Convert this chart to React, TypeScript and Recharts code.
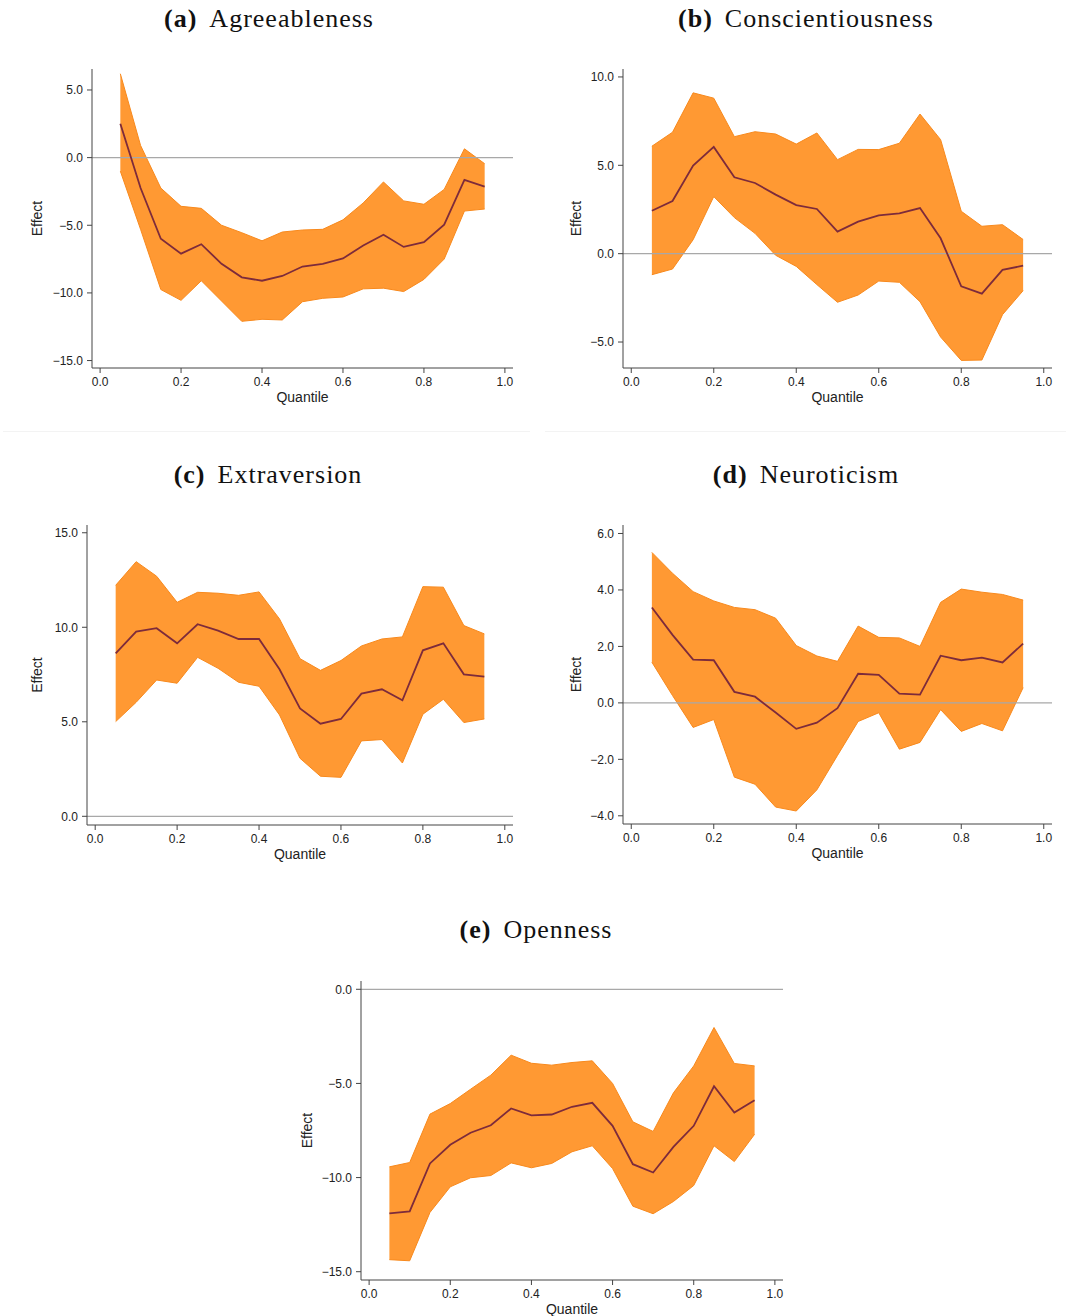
import React from 'react'
import {
  ComposedChart,
  Area,
  Line,
  XAxis,
  YAxis,
  ReferenceLine,
} from 'recharts'

// quantiles shared by all five panels
const QUANTILES = [
  0.05, 0.1, 0.15, 0.2, 0.25, 0.3, 0.35, 0.4, 0.45, 0.5,
  0.55, 0.6, 0.65, 0.7, 0.75, 0.8, 0.85, 0.9, 0.95,
]
const X_TICKS = [0, 0.2, 0.4, 0.6, 0.8, 1.0]

// (a) Agreeableness
const AGREE_MEAN = [2.5, -2.25, -6.0, -7.1, -6.4, -7.85, -8.85, -9.1, -8.75, -8.05, -7.85, -7.45, -6.5, -5.7, -6.6, -6.25, -4.95, -1.65, -2.15]
const AGREE_LO = [-1.0, -5.3, -9.75, -10.55, -9.1, -10.6, -12.1, -11.95, -12.0, -10.65, -10.4, -10.3, -9.7, -9.65, -9.9, -9.0, -7.5, -3.95, -3.8]
const AGREE_HI = [6.2, 0.9, -2.25, -3.6, -3.75, -5.0, -5.55, -6.15, -5.5, -5.35, -5.3, -4.6, -3.35, -1.8, -3.2, -3.45, -2.35, 0.65, -0.45]

// (b) Conscientiousness
const CONSC_MEAN = [2.43, 2.98, 4.98, 6.04, 4.32, 4.0, 3.34, 2.75, 2.53, 1.25, 1.81, 2.17, 2.28, 2.58, 0.87, -1.85, -2.26, -0.92, -0.68]
const CONSC_LO = [-1.19, -0.87, 0.79, 3.23, 2.04, 1.15, -0.09, -0.72, -1.75, -2.75, -2.34, -1.55, -1.62, -2.72, -4.72, -6.04, -6.02, -3.45, -2.09]
const CONSC_HI = [6.08, 6.87, 9.1, 8.8, 6.62, 6.9, 6.77, 6.2, 6.83, 5.32, 5.9, 5.89, 6.25, 7.9, 6.45, 2.4, 1.55, 1.64, 0.8]

// (c) Extraversion
const EXTRA_MEAN = [8.62, 9.77, 9.95, 9.15, 10.16, 9.82, 9.38, 9.38, 7.78, 5.71, 4.9, 5.15, 6.49, 6.72, 6.14, 8.78, 9.15, 7.51, 7.39]
const EXTRA_LO = [5.01, 6.03, 7.21, 7.04, 8.41, 7.83, 7.09, 6.88, 5.36, 3.07, 2.12, 2.06, 3.99, 4.06, 2.82, 5.4, 6.19, 4.96, 5.15]
const EXTRA_HI = [12.22, 13.47, 12.7, 11.32, 11.85, 11.8, 11.69, 11.87, 10.44, 8.34, 7.72, 8.24, 9.01, 9.38, 9.49, 12.15, 12.12, 10.09, 9.65]

// (d) Neuroticism
const NEURO_MEAN = [3.38, 2.41, 1.53, 1.51, 0.39, 0.22, -0.34, -0.92, -0.7, -0.19, 1.03, 0.99, 0.33, 0.29, 1.67, 1.51, 1.6, 1.43, 2.1]
const NEURO_LO = [1.44, 0.26, -0.87, -0.59, -2.63, -2.88, -3.69, -3.83, -3.08, -1.86, -0.66, -0.35, -1.64, -1.4, -0.24, -1.01, -0.73, -0.99, 0.54]
const NEURO_HI = [5.33, 4.59, 3.94, 3.61, 3.38, 3.3, 3.0, 2.03, 1.66, 1.47, 2.72, 2.32, 2.3, 2.0, 3.56, 4.03, 3.92, 3.84, 3.64]

// (e) Openness
const OPEN_MEAN = [-11.9, -11.8, -9.25, -8.26, -7.62, -7.22, -6.33, -6.7, -6.65, -6.24, -6.03, -7.25, -9.29, -9.73, -8.37, -7.25, -5.15, -6.55, -5.89]
const OPEN_LO = [-14.36, -14.42, -11.85, -10.49, -10.01, -9.89, -9.22, -9.48, -9.25, -8.63, -8.31, -9.52, -11.52, -11.92, -11.27, -10.42, -8.31, -9.15, -7.7]
const OPEN_HI = [-9.43, -9.2, -6.63, -6.07, -5.31, -4.56, -3.5, -3.93, -4.03, -3.89, -3.8, -5.0, -7.04, -7.55, -5.5, -4.07, -2.03, -3.94, -4.07]

const SANS = '"Liberation Sans", Arial, Helvetica, sans-serif'
const SERIF = '"Liberation Serif", "Times New Roman", serif'

const fmt = (v: number) => (v < 0 ? '\u2212' + Math.abs(v).toFixed(1) : v.toFixed(1))

interface PanelProps {
  letter: string
  name: string
  mean: number[]
  lo: number[]
  hi: number[]
  yDomain: [number, number]
  yTicks: number[]
  // plot box in page pixels
  x0: number
  x1: number
  y0: number
  y1: number
  effectX: number
  titleX: number
  titleY: number
}

function Panel(p: PanelProps) {
  const data = QUANTILES.map((q, i) => ({
    q,
    mean: p.mean[i],
    band: [p.lo[i], p.hi[i]],
  }))
  const left = p.x0 - 80
  const top = p.y0 - 10
  const width = p.x1 - p.x0 + 90
  const height = p.y1 - p.y0 + 55

  return (
    <>
      <div
        style={{
          position: 'absolute',
          left: p.titleX,
          top: p.titleY - 16,
          transform: 'translateX(-50%)',
          fontFamily: SERIF,
          fontSize: 26,
          lineHeight: '32px',
          letterSpacing: '1px',
          whiteSpace: 'nowrap',
          color: '#111',
        }}
      >
        <b>({p.letter})</b>
        <span style={{ marginLeft: 12 }}>{p.name}</span>
      </div>
      <div style={{ position: 'absolute', left, top }}>
        <ComposedChart
          width={width}
          height={height}
          data={data}
          margin={{ top: 10, right: 10, left: 8, bottom: 5 }}
        >
          <XAxis
            dataKey="q"
            type="number"
            domain={[-0.02, 1.02]}
            ticks={X_TICKS}
            allowDataOverflow
            tickFormatter={(v: number) => v.toFixed(1)}
            height={40}
            stroke="#444"
            tickSize={5}
            tickMargin={4}
            tick={{ fill: '#222', fontSize: 12, fontFamily: SANS }}
            label={{
              value: 'Quantile',
              position: 'insideBottom',
              offset: 6,
              style: { fill: '#222', fontSize: 14, fontFamily: SANS },
            }}
          />
          <YAxis
            type="number"
            domain={p.yDomain}
            ticks={p.yTicks}
            allowDataOverflow
            tickFormatter={fmt}
            width={72}
            stroke="#444"
            tickSize={5}
            tickMargin={4}
            tick={{ fill: '#222', fontSize: 12, fontFamily: SANS }}
            label={{
              value: 'Effect',
              angle: -90,
              position: 'insideLeft',
              offset: p.effectX - (p.x0 - 72),
              style: { fill: '#222', fontSize: 14, fontFamily: SANS, textAnchor: 'middle' },
            }}
          />
          <ReferenceLine y={0} stroke="#a8a8a8" strokeWidth={1.3} />
          <Area
            type="linear"
            dataKey="band"
            fill="#ff9933"
            fillOpacity={1}
            stroke="#f8891c"
            strokeWidth={1}
            isAnimationActive={false}
          />
          <Line
            type="linear"
            dataKey="mean"
            stroke="#7d2b3b"
            strokeWidth={1.8}
            dot={false}
            isAnimationActive={false}
          />
        </ComposedChart>
      </div>
    </>
  )
}

export default function App() {
  return (
    <div
      style={{
        position: 'absolute',
        left: 0,
        top: 0,
        width: 1066,
        height: 1316,
        background: '#fff',
      }}
    >
      <Panel
        letter="a"
        name="Agreeableness"
        mean={AGREE_MEAN}
        lo={AGREE_LO}
        hi={AGREE_HI}
        yDomain={[-15.55, 6.55]}
        yTicks={[-15, -10, -5, 0, 5]}
        x0={92}
        x1={513}
        y0={69}
        y1={368}
        effectX={37}
        titleX={269}
        titleY={19}
      />
      <Panel
        letter="b"
        name="Conscientiousness"
        mean={CONSC_MEAN}
        lo={CONSC_LO}
        hi={CONSC_HI}
        yDomain={[-6.47, 10.45]}
        yTicks={[-5, 0, 5, 10]}
        x0={623}
        x1={1052}
        y0={69}
        y1={368}
        effectX={576}
        titleX={806}
        titleY={19}
      />
      <div style={{ position: 'absolute', left: 3, top: 431, width: 527, height: 1, background: '#f3f3f3' }} />
      <div style={{ position: 'absolute', left: 545, top: 431, width: 521, height: 1, background: '#f3f3f3' }} />
      <Panel
        letter="c"
        name="Extraversion"
        mean={EXTRA_MEAN}
        lo={EXTRA_LO}
        hi={EXTRA_HI}
        yDomain={[-0.46, 15.41]}
        yTicks={[0, 5, 10, 15]}
        x0={87}
        x1={513}
        y0={525}
        y1={825}
        effectX={37}
        titleX={268}
        titleY={475}
      />
      <Panel
        letter="d"
        name="Neuroticism"
        mean={NEURO_MEAN}
        lo={NEURO_LO}
        hi={NEURO_HI}
        yDomain={[-4.29, 6.3]}
        yTicks={[-4, -2, 0, 2, 4, 6]}
        x0={623}
        x1={1052}
        y0={525}
        y1={824}
        effectX={576}
        titleX={806}
        titleY={475}
      />
      <Panel
        letter="e"
        name="Openness"
        mean={OPEN_MEAN}
        lo={OPEN_LO}
        hi={OPEN_HI}
        yDomain={[-15.44, 0.44]}
        yTicks={[-15, -10, -5, 0]}
        x0={361}
        x1={783}
        y0={981}
        y1={1280}
        effectX={307}
        titleX={536}
        titleY={930}
      />
    </div>
  )
}
